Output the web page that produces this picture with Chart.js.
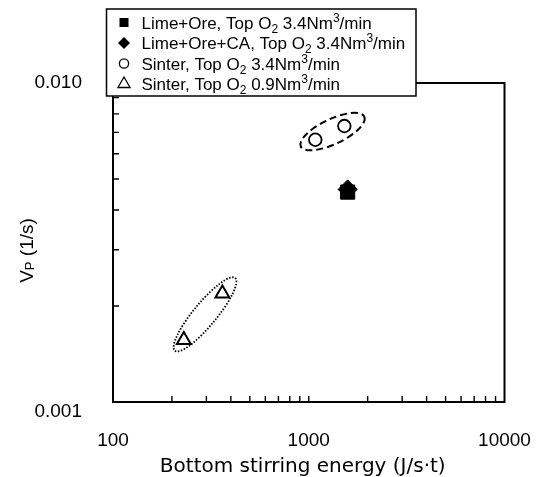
<!DOCTYPE html>
<html>
<head>
<meta charset="utf-8">
<script src="https://cdn.jsdelivr.net/npm/chart.js@4.4.1/dist/chart.umd.min.js"></script>
<style>
  html, body { margin: 0; padding: 0; background: #fff; }
  canvas { display: block; }
</style>
</head>
<body>
<canvas id="chart" width="536" height="477"></canvas>
<script>
// Rate constant Vp against bottom stirring energy, four charge / top-blow conditions
const seriesLabels = [
  'Lime+Ore, Top O₂ 3.4Nm³/min',
  'Lime+Ore+CA, Top O₂ 3.4Nm³/min',
  'Sinter, Top O₂ 3.4Nm³/min',
  'Sinter, Top O₂ 0.9Nm³/min'
];
const limeOreEnergy = [1580];
const limeOreVp = [0.00455];
const limeOreCaEnergy = [1580];
const limeOreCaVp = [0.00464];
const sinterHighO2Energy = [1080, 1520];
const sinterHighO2Vp = [0.00664, 0.00733];
const sinterLowO2Energy = [230, 362];
const sinterLowO2Vp = [0.001565, 0.00219];

const xTickLabels = ['100', '1000', '10000'];
const yTickLabels = ['0.001', '0.010'];
const xTitle = 'Bottom stirring energy (J/s·t)';
const yTitleParts = ['V', 'P', ' (1/s)'];

const BASE_FONT = '"Liberation Sans", Arial, sans-serif';

function pairs(xs, ys) {
  return xs.map((x, i) => ({ x: x, y: ys[i] }));
}

function labelFor(list, value) {
  const hit = list.find(l => Math.abs(Math.log10(Number(l)) - Math.log10(value)) < 1e-6);
  return hit || '';
}

// log ticks at 1..9 x 10^n between the axis limits
function decadeTicks(scale) {
  const out = [];
  const lo = Math.floor(Math.log10(scale.min) + 1e-9);
  const hi = Math.ceil(Math.log10(scale.max) - 1e-9);
  for (let e = lo; e <= hi; e++) {
    for (let m = 1; m <= 9; m++) {
      const v = Number((m * Math.pow(10, e)).toPrecision(6));
      if (v >= scale.min * (1 - 1e-9) && v <= scale.max * (1 + 1e-9)) out.push({ value: v });
    }
  }
  scale.ticks = out;
}

// marker look per series
const markerStyles = [
  { pointStyle: 'rect',     radius: 10,  fill: '#000', lineWidth: 1 },
  { pointStyle: 'rectRot',  radius: 9.5, fill: '#000', lineWidth: 1 },
  { pointStyle: 'circle',   radius: 6.3, fill: '#fff', lineWidth: 1.8 },
  { pointStyle: 'triangle', radius: 8,   fill: '#fff', lineWidth: 2 }
];

const seriesData = [
  pairs(limeOreEnergy, limeOreVp),
  pairs(limeOreCaEnergy, limeOreCaVp),
  pairs(sinterHighO2Energy, sinterHighO2Vp),
  pairs(sinterLowO2Energy, sinterLowO2Vp)
];

const datasets = seriesData.map((data, i) => ({
  label: seriesLabels[i],
  data: data,
  showLine: false,
  pointStyle: markerStyles[i].pointStyle,
  pointRadius: markerStyles[i].radius,
  pointBackgroundColor: markerStyles[i].fill,
  pointBorderColor: '#000',
  pointBorderWidth: markerStyles[i].lineWidth
}));

// outlines drawn round the two sinter groups
const groupOutlines = [
  { dataset: 2, pad: 19, minor: 12.5, shift: 3, dash: [7, 4], width: 2 },
  { dataset: 3, pad: 17, minor: 11.5, shift: 3, dash: [1.5, 1.6], width: 1.8 }
];

function drawOutline(chart, g) {
  const ctx = chart.ctx;
  const pts = chart.getDatasetMeta(g.dataset).data.map(p => ({ x: p.x, y: p.y }));
  pts.sort((a, b) => a.x - b.x);
  const p0 = pts[0], p1 = pts[pts.length - 1];
  const dx = p1.x - p0.x, dy = p1.y - p0.y;
  const len = Math.hypot(dx, dy);
  const ux = dx / len, uy = dy / len;
  const cx = (p0.x + p1.x) / 2 + ux * g.shift;
  const cy = (p0.y + p1.y) / 2 + uy * g.shift;
  ctx.save();
  ctx.beginPath();
  ctx.ellipse(cx, cy, len / 2 + g.pad, g.minor, Math.atan2(dy, dx), 0, Math.PI * 2);
  ctx.setLineDash(g.dash);
  ctx.lineWidth = g.width;
  ctx.strokeStyle = '#000';
  ctx.stroke();
  ctx.restore();
}

// split a label into plain / subscript / superscript runs
function richParts(text) {
  const sub = { '₀': '0', '₁': '1', '₂': '2', '₃': '3' };
  const sup = { '¹': '1', '²': '2', '³': '3' };
  const parts = [];
  for (const ch of text) {
    let kind = 'n', t = ch;
    if (sub[ch]) { kind = 'sub'; t = sub[ch]; }
    else if (sup[ch]) { kind = 'sup'; t = sup[ch]; }
    const last = parts[parts.length - 1];
    if (last && last.kind === kind) last.t += t;
    else parts.push({ kind: kind, t: t });
  }
  return parts;
}

function drawRich(ctx, parts, x, y, size, small) {
  let cx = x;
  ctx.textBaseline = 'alphabetic';
  ctx.textAlign = 'left';
  for (const p of parts) {
    let dy = 0;
    if (p.kind === 'n') ctx.font = size + 'px ' + BASE_FONT;
    else {
      ctx.font = small + 'px ' + BASE_FONT;
      dy = p.kind === 'sub' ? 4 : -7;
    }
    ctx.fillText(p.t, cx, y + dy);
    cx += ctx.measureText(p.t).width;
  }
}

function drawLegendMarker(ctx, style, x, y) {
  ctx.save();
  ctx.beginPath();
  ctx.strokeStyle = '#000';
  ctx.fillStyle = style.fill;
  if (style.pointStyle === 'rect') {
    ctx.rect(x - 4.5, y - 4.5, 9, 9);
    ctx.fill();
  } else if (style.pointStyle === 'rectRot') {
    ctx.moveTo(x - 6, y); ctx.lineTo(x, y - 6); ctx.lineTo(x + 6, y); ctx.lineTo(x, y + 6);
    ctx.closePath();
    ctx.fill();
  } else if (style.pointStyle === 'circle') {
    ctx.arc(x, y, 4.6, 0, Math.PI * 2);
    ctx.lineWidth = 1.3;
    ctx.stroke();
  } else {
    const r = 7;
    ctx.moveTo(x, y - r);
    ctx.lineTo(x + r * Math.sin(Math.PI * 2 / 3), y + r / 2);
    ctx.lineTo(x - r * Math.sin(Math.PI * 2 / 3), y + r / 2);
    ctx.closePath();
    ctx.lineWidth = 1.3;
    ctx.stroke();
  }
  ctx.restore();
}

const framePlugin = {
  id: 'frame',
  beforeDraw(chart) {
    const ctx = chart.ctx;
    ctx.save();
    ctx.fillStyle = '#fff';
    ctx.fillRect(0, 0, chart.width, chart.height);
    ctx.restore();
  },
  beforeDatasetsDraw(chart) {
    const ctx = chart.ctx;
    const a = chart.chartArea;
    const xs = chart.scales.x, ys = chart.scales.y;
    ctx.save();
    ctx.strokeStyle = '#000';
    // inward ticks on the bottom and left axes
    ctx.lineWidth = 1.4;
    ctx.beginPath();
    xs.ticks.forEach(t => {
      if (t.value <= xs.min * 1.0001 || t.value >= xs.max * 0.9999) return;
      const px = xs.getPixelForValue(t.value);
      ctx.moveTo(px, a.bottom);
      ctx.lineTo(px, a.bottom - 6);
    });
    ys.ticks.forEach(t => {
      if (t.value <= ys.min * 1.0001 || t.value >= ys.max * 0.9999) return;
      const py = ys.getPixelForValue(t.value);
      ctx.moveTo(a.left, py);
      ctx.lineTo(a.left + 6, py);
    });
    ctx.stroke();
    ctx.lineWidth = 2;
    ctx.strokeRect(a.left, a.top, a.right - a.left, a.bottom - a.top);
    ctx.restore();
    groupOutlines.forEach(g => drawOutline(chart, g));
  },
  afterDraw(chart) {
    const ctx = chart.ctx;
    const a = chart.chartArea;
    ctx.save();
    ctx.fillStyle = '#000';

    // x axis title
    ctx.font = '20px "DejaVu Sans", sans-serif';
    ctx.textAlign = 'center';
    ctx.textBaseline = 'middle';
    ctx.fillText(xTitle, (a.left + a.right) / 2 - 6, 467);

    // y axis title, rotated, with subscript P
    ctx.save();
    ctx.translate(26, (a.top + a.bottom) / 2 + 8);
    ctx.rotate(-Math.PI / 2);
    ctx.font = '19px ' + BASE_FONT;
    const w0 = ctx.measureText(yTitleParts[0]).width;
    const w2 = ctx.measureText(yTitleParts[2]).width;
    ctx.font = '13px ' + BASE_FONT;
    const w1 = ctx.measureText(yTitleParts[1]).width;
    let tx = -(w0 + w1 + w2) / 2;
    ctx.textAlign = 'left';
    ctx.textBaseline = 'alphabetic';
    ctx.font = '19px ' + BASE_FONT;
    ctx.fillText(yTitleParts[0], tx, 7);
    tx += w0;
    ctx.font = '13px ' + BASE_FONT;
    ctx.fillText(yTitleParts[1], tx, 8);
    tx += w1;
    ctx.font = '19px ' + BASE_FONT;
    ctx.fillText(yTitleParts[2], tx, 7);
    ctx.restore();

    // legend box over the top-left corner of the plot
    const box = { left: 106.5, top: 9, right: 416, bottom: 96 };
    ctx.fillStyle = '#fff';
    ctx.fillRect(box.left, box.top, box.right - box.left, box.bottom - box.top);
    ctx.strokeStyle = '#000';
    ctx.lineWidth = 1.5;
    ctx.strokeRect(box.left, box.top, box.right - box.left, box.bottom - box.top);
    ctx.fillStyle = '#000';
    const rowBase = [28.5, 49, 69.5, 90];
    chart.data.datasets.forEach((ds, i) => {
      drawLegendMarker(ctx, markerStyles[i], 124, rowBase[i] - 6);
      ctx.fillStyle = '#000';
      drawRich(ctx, richParts(ds.label), 141.5, rowBase[i], 17, 12);
    });
    ctx.restore();
  }
};

new Chart(document.getElementById('chart'), {
  type: 'scatter',
  data: { datasets: datasets },
  options: {
    responsive: false,
    animation: false,
    events: [],
    layout: { padding: { top: 83, right: 31.5, bottom: 0, left: 0 } },
    plugins: {
      legend: { display: false },
      tooltip: { enabled: false }
    },
    scales: {
      x: {
        type: 'logarithmic',
        position: 'bottom',
        min: 100,
        max: 10000,
        grid: { display: false, drawTicks: false },
        border: { display: false },
        afterBuildTicks: decadeTicks,
        ticks: {
          autoSkip: false,
          maxRotation: 0,
          padding: 27,
          color: '#000',
          font: { family: BASE_FONT, size: 19 },
          callback: v => labelFor(xTickLabels, v)
        },
        afterFit: s => {
          s.height = 75;
          s.paddingLeft = 0;
          s.paddingRight = 0;
        }
      },
      y: {
        type: 'logarithmic',
        position: 'left',
        min: 0.001,
        max: 0.01,
        grid: { display: false, drawTicks: false },
        border: { display: false },
        afterBuildTicks: decadeTicks,
        ticks: {
          autoSkip: false,
          padding: 31,
          color: '#000',
          font: { family: BASE_FONT, size: 19, lineHeight: 1.0 },
          // the lowest label sits a line-half below the axis corner
          callback: (v, i) => {
            const l = labelFor(yTickLabels, v);
            return (l && i === 0) ? ['', l] : l;
          }
        },
        afterFit: s => {
          s.width = 113;
          s.paddingTop = 0;
          s.paddingBottom = 0;
        }
      }
    }
  },
  plugins: [framePlugin]
});
</script>
</body>
</html>
